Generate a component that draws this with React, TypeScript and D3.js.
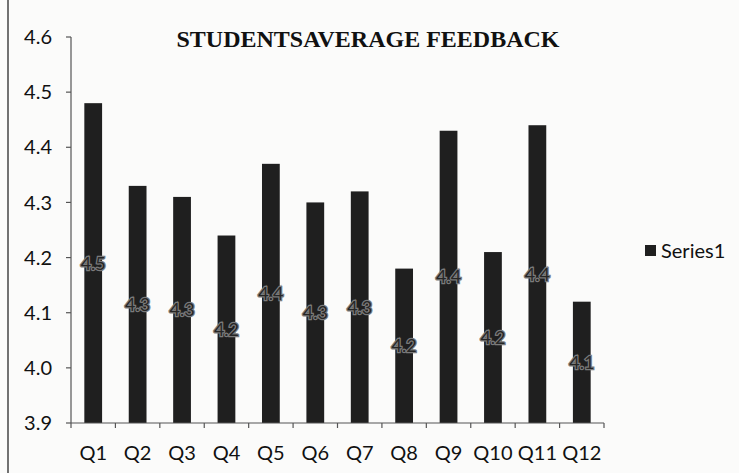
import React from "react";
import * as d3 from "d3";

const categories = ["Q1", "Q2", "Q3", "Q4", "Q5", "Q6", "Q7", "Q8", "Q9", "Q10", "Q11", "Q12"];
const series1 = [4.48, 4.33, 4.31, 4.24, 4.37, 4.3, 4.32, 4.18, 4.43, 4.21, 4.44, 4.12];
const yTicks = [3.9, 4.0, 4.1, 4.2, 4.3, 4.4, 4.5, 4.6];
const title = "STUDENTSAVERAGE FEEDBACK";
const seriesName = "Series1";

const W = 739;
const H = 473;
const left = 71, right = 604, top = 37, bottom = 423;
const font = "Lato, 'Open Sans', sans-serif";

export default function App() {
  const x = d3.scaleBand().domain(categories).range([left, right]).paddingInner(0.6).paddingOuter(0.3);
  const y = d3.scaleLinear().domain([3.9, 4.6]).range([bottom, top]);
  const step = (right - left) / categories.length;

  return (
    <svg width={W} height={H} style={{ position: "absolute", left: 0, top: 0, background: "#fbfbfa" }}>
      <line x1={8} x2={8} y1={0} y2={H} stroke="#444" strokeWidth={1.5} />
      <text x={368} y={47} textAnchor="middle" fontFamily="'Liberation Serif', serif" fontWeight="bold" fontSize={24} fill="#111">
        {title}
      </text>

      {/* y axis */}
      <line x1={left} x2={left} y1={top} y2={bottom} stroke="#555" strokeWidth={1.2} />
      {yTicks.map((t) => (
        <g key={t}>
          <line x1={left - 5} x2={left} y1={y(t)} y2={y(t)} stroke="#555" strokeWidth={1.2} />
          <text x={52} y={y(t)} dy="0.36em" textAnchor="end" fontFamily={font} fontSize={20} fill="#111">
            {t.toFixed(1)}
          </text>
        </g>
      ))}

      {/* bars */}
      {categories.map((c, i) => (
        <rect key={c} x={x(c)} y={y(series1[i])} width={x.bandwidth()} height={bottom - y(series1[i])} fill="#1f1f1f" />
      ))}

      {/* x axis */}
      <line x1={left} x2={right} y1={bottom} y2={bottom} stroke="#555" strokeWidth={1.2} />
      {d3.range(categories.length + 1).map((i) => (
        <line key={i} x1={left + i * step} x2={left + i * step} y1={bottom} y2={bottom + 5} stroke="#555" strokeWidth={1.2} />
      ))}
      {categories.map((c) => (
        <text key={c} x={x(c)! + x.bandwidth() / 2} y={453} dy="0.36em" textAnchor="middle" fontFamily={font} fontSize={20} fill="#111">
          {c}
        </text>
      ))}

      {/* data labels */}
      {categories.map((c, i) => (
        <text
          key={c}
          x={x(c)! + x.bandwidth() / 2}
          y={(y(series1[i]) + bottom) / 2}
          dy="0.36em"
          textAnchor="middle"
          fontFamily={font}
          fontSize={18}
          fill="#262626"
          stroke="#7a7a7a"
          strokeWidth={2.5}
          paintOrder="stroke"
        >
          {series1[i].toFixed(1)}
        </text>
      ))}

      {/* legend */}
      <rect x={645} y={245} width={11} height={11} fill="#1f1f1f" />
      <text x={661} y={251} dy="0.36em" fontFamily={font} fontSize={20} fill="#111">
        {seriesName}
      </text>
    </svg>
  );
}
